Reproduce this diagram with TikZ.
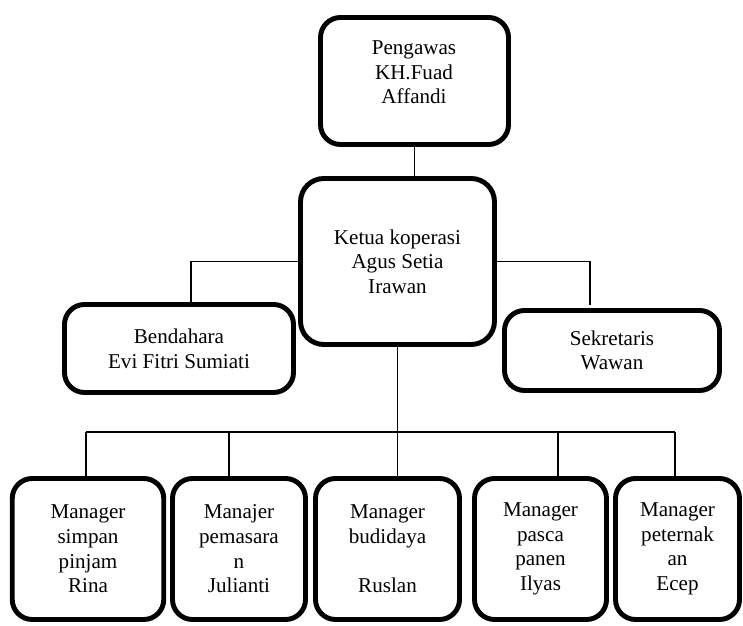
\documentclass[tikz,border=0pt]{standalone}
\usepackage{fontspec}
\setmainfont{Liberation Serif}
\usetikzlibrary{calc}
\tikzset{
	box/.style={
		draw,
		line width=4.2pt,
		rounded corners=0.6cm,
		align=center,
		inner sep=0pt,
		font=\fontsize{18}{21}\selectfont
	},
	boxtext/.style={
		align=center,
		inner sep=0pt,
		font=\fontsize{18}{21}\selectfont
	},
	link/.style={
		line width=1.4pt
	}
}

\begin{document}
\begin{tikzpicture}[x=0.03cm, y=-0.03cm]
	\useasboundingbox (0,0) rectangle (743,626);
	%%%%% atas
	\node [box, minimum width=5.64cm, minimum height=3.81cm] (pengawas) at (414.5,81) {};
	\node [boxtext] (pengawas text) at (414,72.5) {Pengawas\\KH.Fuad\\Affandi};
	\node [box, rounded corners=0.7cm, minimum width=5.82cm, minimum height=4.98cm] (ketua) at (397.5,261.5) {Ketua koperasi\\Agus Setia\\Irawan};
	\node [box, minimum width=6.87cm, minimum height=2.64cm] (bendahara) at (179,348.5) {Bendahara\\Evi Fitri Sumiati};
	\node [box, minimum width=6.45cm, minimum height=2.4cm] (sekretaris) at (612,350.5) {Sekretaris\\Wawan};
	%%%%% manager
	\node [box, minimum width=4.545cm, minimum height=4.23cm] (m1) at (88,549) {Manager\\simpan\\pinjam\\Rina};
	\node [box, minimum width=3.99cm, minimum height=4.23cm] (m2) at (239,549) {Manajer\\pemasara\\n\\Julianti};
	\node [box, minimum width=4.32cm, minimum height=4.23cm] (m3) at (387.5,549) {Manager\\budidaya\\[21pt]Ruslan};
	\node [box, minimum width=3.96cm, minimum height=4.23cm] (m4) at (540.5,549) {Manager\\pasca\\panen\\Ilyas};
	\node [box, minimum width=3.72cm, minimum height=4.23cm] (m5) at (677.5,549) {Manager\\peternak\\an\\Ecep};
	%%%%% garis
	\coordinate (bend drop) at (191,303);
	\coordinate (sek drop) at (590,305);
	\coordinate (b1) at (86,432);
	\coordinate (b2) at (229,432);
	\coordinate (b3) at (ketua.south |- b1);
	\coordinate (b4) at (558,432);
	\coordinate (b5) at (675,432);
	\draw [link] (pengawas.south) -- (pengawas.south |- ketua.north);
	\draw [link] (ketua.west) -| (bend drop);
	\draw [link] (ketua.east) -| (sek drop);
	\draw [link] (ketua.south) -- (b3);
	\draw [link] (b1) -- (b5);
	\foreach \i in {1,...,5}
		\draw [link] (b\i) -- (b\i |- m\i.north);
\end{tikzpicture}
\end{document}
